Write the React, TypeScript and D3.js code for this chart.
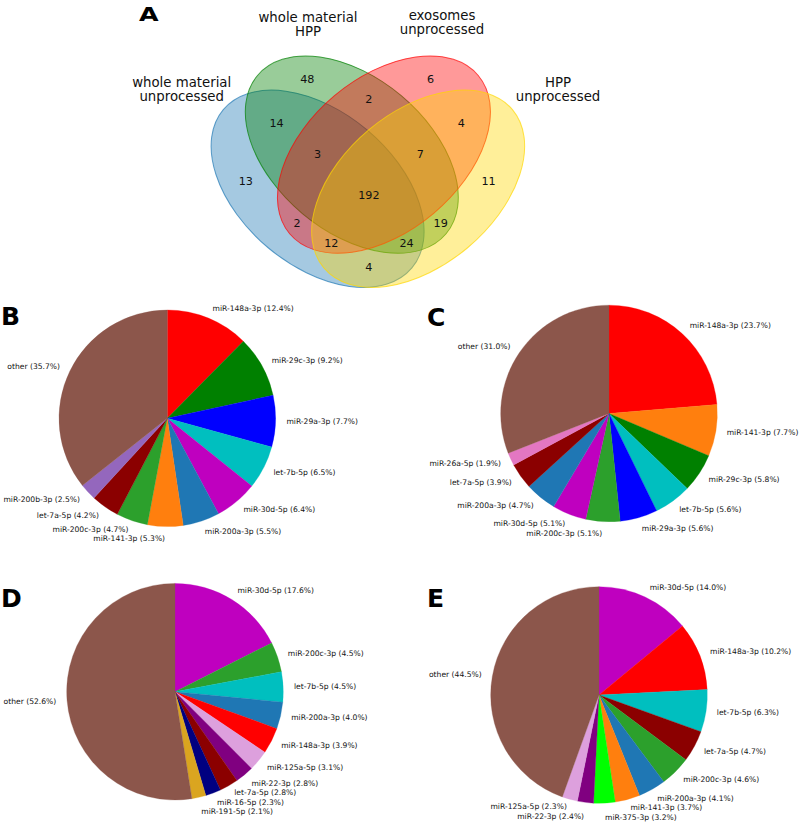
import React from 'react';
import * as d3 from 'd3';

// ---------- Venn data ----------
const setNames: string[][] = [
  ['whole material', 'unprocessed'],
  ['whole material', 'HPP'],
  ['exosomes', 'unprocessed'],
  ['HPP', 'unprocessed'],
];
const setColors = ['#1f77b4', '#008000', '#ff0000', '#ffd700'];
const vennRegions = ['0100', '0010', '0110', '1100', '0011', '1110', '0111', '1000', '0001', '1111', '1010', '0101', '1011', '1101', '1001'];
const vennCounts = [48, 6, 2, 14, 4, 3, 7, 13, 11, 192, 2, 19, 12, 24, 4];

// ---------- Pie data ----------
const pieBLabels = ['miR-148a-3p', 'miR-29c-3p', 'miR-29a-3p', 'let-7b-5p', 'miR-30d-5p', 'miR-200a-3p', 'miR-141-3p', 'miR-200c-3p', 'let-7a-5p', 'miR-200b-3p', 'other'];
const pieBValues = [12.4, 9.2, 7.7, 6.5, 6.4, 5.5, 5.3, 4.7, 4.2, 2.5, 35.7];

const pieCLabels = ['miR-148a-3p', 'miR-141-3p', 'miR-29c-3p', 'let-7b-5p', 'miR-29a-3p', 'miR-200c-3p', 'miR-30d-5p', 'miR-200a-3p', 'let-7a-5p', 'miR-26a-5p', 'other'];
const pieCValues = [23.7, 7.7, 5.8, 5.6, 5.6, 5.1, 5.1, 4.7, 3.9, 1.9, 31.0];

const pieDLabels = ['miR-30d-5p', 'miR-200c-3p', 'let-7b-5p', 'miR-200a-3p', 'miR-148a-3p', 'miR-125a-5p', 'miR-22-3p', 'let-7a-5p', 'miR-16-5p', 'miR-191-5p', 'other'];
const pieDValues = [17.6, 4.5, 4.5, 4.0, 3.9, 3.1, 2.8, 2.8, 2.3, 2.1, 52.6];

const pieELabels = ['miR-30d-5p', 'miR-148a-3p', 'let-7b-5p', 'let-7a-5p', 'miR-200c-3p', 'miR-200a-3p', 'miR-141-3p', 'miR-375-3p', 'miR-22-3p', 'miR-125a-5p', 'other'];
const pieEValues = [14.0, 10.2, 6.3, 4.7, 4.6, 4.1, 3.7, 3.2, 2.4, 2.3, 44.5];

const mirColors: Record<string, string> = {
  'miR-148a-3p': '#ff0000',
  'miR-29c-3p': '#008000',
  'miR-29a-3p': '#0000ff',
  'let-7b-5p': '#00bfbf',
  'miR-30d-5p': '#bf00bf',
  'miR-200a-3p': '#1f77b4',
  'miR-141-3p': '#ff7f0e',
  'miR-200c-3p': '#2ca02c',
  'let-7a-5p': '#8b0000',
  'miR-200b-3p': '#9467bd',
  'miR-26a-5p': '#e377c2',
  'miR-125a-5p': '#dda0dd',
  'miR-22-3p': '#800080',
  'miR-16-5p': '#000080',
  'miR-191-5p': '#daa520',
  'miR-375-3p': '#00ff00',
  other: '#8c564b',
};

// ---------- layout ----------
const FONT = 'DejaVu Sans, Verdana, sans-serif';
const vx = d3.scaleLinear().domain([0, 1]).range([197.9, 539.9]);
const vy = d3.scaleLinear().domain([0, 1]).range([325.6, -16.4]);

const ellipses = [
  { cx: 0.35, cy: 0.4, angle: 140 },
  { cx: 0.45, cy: 0.5, angle: 140 },
  { cx: 0.544, cy: 0.5, angle: 40 },
  { cx: 0.644, cy: 0.4, angle: 40 },
];
const regionPos: Record<string, [number, number]> = {
  '0001': [0.85, 0.42], '0010': [0.68, 0.72], '0011': [0.77, 0.59], '0100': [0.32, 0.72],
  '0101': [0.71, 0.30], '0110': [0.50, 0.66], '0111': [0.65, 0.50], '1000': [0.14, 0.42],
  '1001': [0.50, 0.17], '1010': [0.29, 0.30], '1011': [0.39, 0.24], '1100': [0.23, 0.59],
  '1101': [0.61, 0.24], '1110': [0.35, 0.50], '1111': [0.50, 0.38],
};
const namePos: { x: number; y: number }[] = [
  { x: 181.7, y: 87 },
  { x: 308, y: 22 },
  { x: 442, y: 19.5 },
  { x: 558, y: 87 },
];

function Venn() {
  const rx = vx(0.36) - vx(0);
  const ry = vy(0) - vy(0.225);
  return (
    <g>
      {ellipses.map((e, i) => (
        <ellipse
          key={i}
          cx={vx(e.cx)}
          cy={vy(e.cy)}
          rx={rx}
          ry={ry}
          transform={`rotate(${-e.angle} ${vx(e.cx)} ${vy(e.cy)})`}
          fill={setColors[i]}
          fillOpacity={0.4}
          stroke={setColors[i]}
          strokeOpacity={0.7}
          strokeWidth={1}
        />
      ))}
      {vennRegions.map((r, i) => (
        <text key={r} x={vx(regionPos[r][0])} y={vy(regionPos[r][1])} textAnchor="middle" dominantBaseline="central" fontSize={11.2} fontFamily={FONT} fill="#111">
          {vennCounts[i]}
        </text>
      ))}
      {setNames.map((lines, i) => (
        <text key={i} x={namePos[i].x} textAnchor="middle" fontSize={13.3} fontFamily={FONT} fill="#111">
          {lines.map((l, j) => (
            <tspan key={j} x={namePos[i].x} y={namePos[i].y + j * 14}>{l}</tspan>
          ))}
        </text>
      ))}
      <text x={139} y={21} fontSize={19.5} fontWeight="bold" fontFamily={FONT} transform="translate(139 21) scale(1.3 1) translate(-139 -21)">A</text>
    </g>
  );
}

type Datum = { label: string; value: number };

function Pie({ labels, values, cx, cy, r }: { labels: string[]; values: number[]; cx: number; cy: number; r: number }) {
  const data: Datum[] = labels.map((l, i) => ({ label: l, value: values[i] }));
  const arcs = d3.pie<Datum>().sort(null).value((d) => d.value).startAngle(0).endAngle(2 * Math.PI)(data);
  const arc = d3.arc<d3.PieArcDatum<Datum>>().innerRadius(0).outerRadius(r);

  const lbls = arcs.map((a) => {
    const mid = (a.startAngle + a.endAngle) / 2;
    const x = 1.1 * r * Math.sin(mid);
    const y = -1.1 * r * Math.cos(mid);
    return { x, y, right: x > 0, text: `${a.data.label} (${a.data.value.toFixed(1)}%)` };
  });
  const gap = 9.5;
  for (let it = 0; it < 80; it++) {
    for (let i = 0; i < lbls.length; i++) {
      for (let j = i + 1; j < lbls.length; j++) {
        const a = lbls[i];
        const b = lbls[j];
        if (a.right !== b.right) continue;
        const dy = b.y - a.y;
        if (Math.abs(dy) < gap) {
          const push = (gap - Math.abs(dy)) / 2;
          const s = dy >= 0 ? 1 : -1;
          a.y -= s * push * 0.5;
          b.y += s * push * 0.5;
        }
      }
    }
  }

  return (
    <g transform={`translate(${cx},${cy})`}>
      {arcs.map((a, i) => (
        <path key={i} d={arc(a) || ''} fill={mirColors[a.data.label]} stroke={mirColors[a.data.label]} strokeWidth={0.3} />
      ))}
      {lbls.map((l, i) => (
        <text key={'t' + i} x={l.x} y={l.y} textAnchor={l.right ? 'start' : 'end'} dominantBaseline="central" fontSize={7.6} fontFamily={FONT} fill="#111">
          {l.text}
        </text>
      ))}
    </g>
  );
}

function PanelLetter({ x, y, t }: { x: number; y: number; t: string }) {
  return (
    <text x={x} y={y} fontSize={25} fontWeight="bold" fontFamily={FONT} fill="#000">{t}</text>
  );
}

export default function App() {
  return (
    <svg width={800} height={825} style={{ position: 'absolute', left: 0, top: 0, background: '#fff' }}>
      <rect x={0} y={0} width={800} height={825} fill="#fff" />
      <Venn />
      <Pie labels={pieBLabels} values={pieBValues} cx={167.3} cy={418.3} r={108.3} />
      <Pie labels={pieCLabels} values={pieCValues} cx={609} cy={413.5} r={108.3} />
      <Pie labels={pieDLabels} values={pieDValues} cx={175} cy={691.7} r={108.3} />
      <Pie labels={pieELabels} values={pieEValues} cx={599} cy={695} r={108.3} />
      <PanelLetter x={1} y={325} t="B" />
      <PanelLetter x={427} y={326} t="C" />
      <PanelLetter x={1} y={607} t="D" />
      <PanelLetter x={427} y={607} t="E" />
    </svg>
  );
}
